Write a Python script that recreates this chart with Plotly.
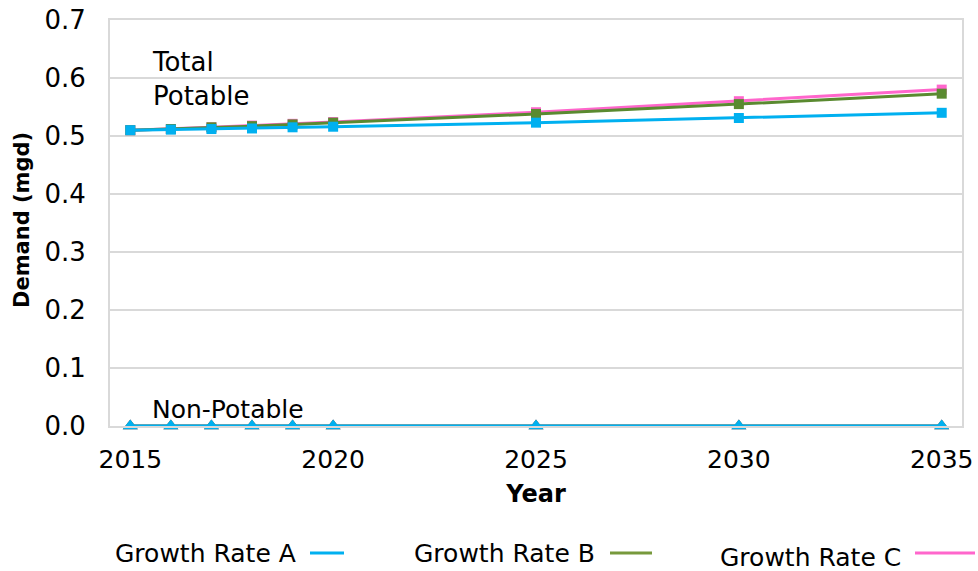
import plotly.graph_objects as go

years = [2015, 2016, 2017, 2018, 2019, 2020, 2025, 2030, 2035]
total_a = [0.510, 0.511, 0.512, 0.513, 0.515, 0.516, 0.523, 0.531, 0.540]
total_b = [0.510, 0.512, 0.515, 0.517, 0.520, 0.523, 0.538, 0.555, 0.573]
total_c = [0.510, 0.512, 0.515, 0.518, 0.521, 0.524, 0.541, 0.560, 0.580]
nonpot_a = [0, 0, 0, 0, 0, 0, 0, 0, 0]
nonpot_b = [0, 0, 0, 0, 0, 0, 0, 0, 0]
nonpot_c = [0, 0, 0, 0, 0, 0, 0, 0, 0]

series_names = ["Growth Rate A", "Growth Rate B", "Growth Rate C"]
colors = {"Growth Rate A": "#00b0f0", "Growth Rate B": "#5a8a30", "Growth Rate C": "#ff66cc"}
legend_colors = {"Growth Rate A": "#00b0f0", "Growth Rate B": "#77993c", "Growth Rate C": "#ff66cc"}

FONT = "DejaVu Sans"
fig = go.Figure()

# draw order: C, B, A (A on top)
for name, tot, npv in [("Growth Rate C", total_c, nonpot_c),
                       ("Growth Rate B", total_b, nonpot_b),
                       ("Growth Rate A", total_a, nonpot_a)]:
    c = colors[name]
    fig.add_trace(go.Scatter(x=years, y=tot, mode="lines+markers", name=name,
                             line=dict(color=c, width=3),
                             marker=dict(symbol="square", size=10, color=c),
                             showlegend=False))
    fig.add_trace(go.Scatter(x=years, y=npv, mode="lines+markers", name=name + " Non-Potable",
                             line=dict(color=c, width=3),
                             marker=dict(symbol="triangle-up", size=13, color=c),
                             showlegend=False, cliponaxis=False))

def px(xp):
    return (xp - 110) / 852
def py(yp):
    return (426 - yp) / 406

annotations = [
    dict(x=0.047, y=0.598, xref="paper", yref="y", text="Total<br>Potable", showarrow=False,
         xanchor="left", yanchor="middle", align="left", font=dict(family=FONT, size=26, color="#000")),
    dict(x=0.047, y=0.029, xref="paper", yref="y", text="Non-Potable", showarrow=False,
         xanchor="left", yanchor="middle", align="left", font=dict(family=FONT, size=25, color="#000")),
    dict(x=px(22), y=py(220), xref="paper", yref="paper", text="<b>Demand (mgd)</b>", showarrow=False,
         textangle=-90, xanchor="center", yanchor="middle", font=dict(family=FONT, size=21, color="#000")),
]
shapes = []
# manual legend: text followed by line sample
leg = [("Growth Rate A", 298, 310, 344, 553),
       ("Growth Rate B", 597, 610, 652, 553),
       ("Growth Rate C", 903, 915, 975, 557)]
for name, tx, l0, l1, yy in leg:
    annotations.append(dict(x=px(tx), y=py(yy), xref="paper", yref="paper", text=name,
                            showarrow=False, xanchor="right", yanchor="middle",
                            font=dict(family=FONT, size=25, color="#000")))
    shapes.append(dict(type="line", xref="paper", yref="paper", x0=px(l0), x1=px(l1),
                       y0=py(553), y1=py(553), line=dict(color=legend_colors[name], width=3)))

fig.update_layout(
    width=978, height=571,
    margin=dict(l=110, r=16, t=20, b=145),
    paper_bgcolor="white", plot_bgcolor="white",
    font=dict(family=FONT, size=25, color="#000"),
    annotations=annotations, shapes=shapes,
    xaxis=dict(range=[2014.5, 2035.5], tickvals=[2015, 2020, 2025, 2030, 2035],
               showgrid=False, zeroline=False, showline=True, linecolor="#d9d9d9", linewidth=2,
               mirror=True, ticks="", ticklabelstandoff=10, automargin=False,
               tickfont=dict(family=FONT, size=25),
               title=dict(text="<b>Year</b>", font=dict(family=FONT, size=24), standoff=12)),
    yaxis=dict(range=[0, 0.7], dtick=0.1, tickformat=".1f", automargin=False,
               showgrid=True, gridcolor="#d9d9d9", gridwidth=2, zeroline=False,
               showline=True, linecolor="#d9d9d9", linewidth=2, mirror=True, ticks="",
               ticklabelstandoff=17, tickfont=dict(family=FONT, size=26)),
)

fig.write_html("out.html", config={"displayModeBar": False},
               post_script="document.body.style.margin='0';document.body.style.overflow='hidden';")
